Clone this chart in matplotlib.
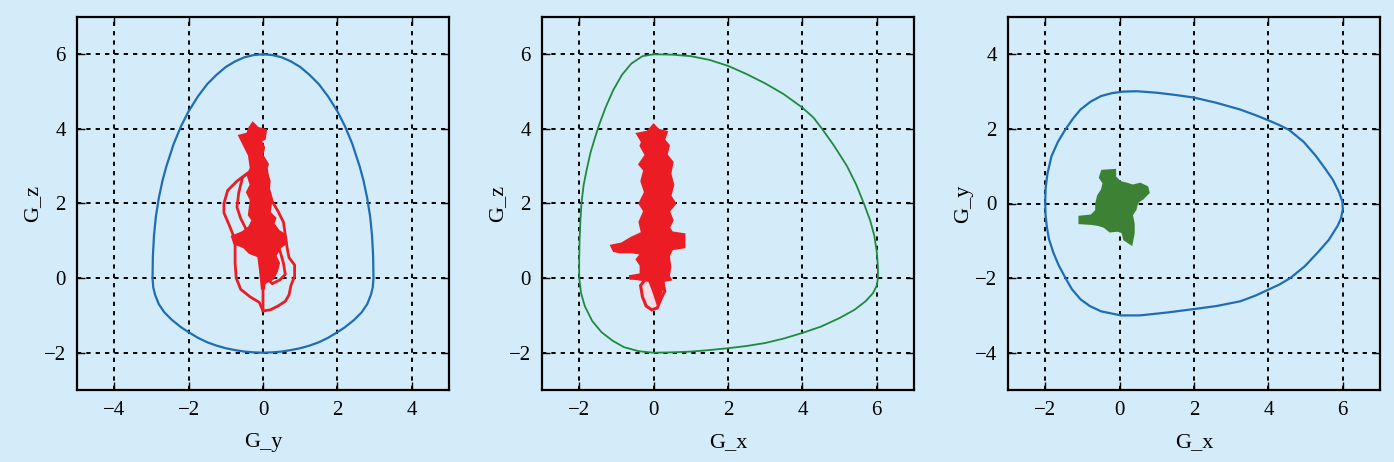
import matplotlib
matplotlib.use("Agg")
import matplotlib.pyplot as plt

plt.rcParams['font.family'] = ['Liberation Serif', 'DejaVu Serif']
plt.rcParams['axes.unicode_minus'] = True

BG = '#d4ecf9'
BLUE = '#1f6db3'
DGREEN = '#1f8a3e'
RED = '#ec1c24'
GREEN = '#3d8234'

# ---------------- Panel 1: G_y vs G_z ----------------
env1_y = [0, 0.25, 0.5, 0.75, 1.0, 1.25, 1.5, 1.75, 2.0, 2.2, 2.4, 2.6, 2.7, 2.8, 2.88, 2.93, 2.96, 2.97,
          2.95, 2.9, 2.8, 2.65, 2.45, 2.2, 2.0, 1.75, 1.5, 1.25, 1.0, 0.75, 0.5, 0.25, 0,
          -0.25, -0.5, -0.75, -1.0, -1.25, -1.5, -1.75, -2.0, -2.2, -2.45, -2.65, -2.8, -2.9, -2.95,
          -2.97, -2.96, -2.93, -2.88, -2.8, -2.7, -2.6, -2.4, -2.2, -2.0, -1.75, -1.5, -1.25, -1.0,
          -0.75, -0.5, -0.25, 0]
env1_z = [6.0, 5.98, 5.92, 5.81, 5.66, 5.45, 5.2, 4.87, 4.47, 4.08, 3.6, 2.99, 2.62, 2.15, 1.65, 1.15, 0.6, 0.0,
          -0.25, -0.45, -0.7, -0.92, -1.12, -1.32, -1.45, -1.6, -1.72, -1.81, -1.88, -1.93, -1.97, -1.99, -2.0,
          -1.99, -1.97, -1.93, -1.88, -1.81, -1.72, -1.6, -1.45, -1.32, -1.12, -0.92, -0.7, -0.45, -0.25,
          0.0, 0.6, 1.15, 1.65, 2.15, 2.62, 2.99, 3.6, 4.08, 4.47, 4.87, 5.2, 5.45, 5.66,
          5.81, 5.92, 5.98, 6.0]

core1_y = [-0.27, -0.15, 0.05, 0.02, -0.1, 0.0, -0.05, 0.1, 0.05, 0.15, 0.12, 0.2, 0.15, 0.3, 0.25, 0.4,
           0.55, 0.6, 0.45, 0.3, 0.4, 0.35, 0.25, 0.05, 0.05, 0.0, -0.05, -0.1, -0.35, -0.5, -0.75, -0.8,
           -0.55, -0.35, -0.25, -0.35, -0.3, -0.4, -0.3, -0.38, -0.3, -0.35, -0.6, -0.4, -0.35, -0.27]
core1_z = [4.12, 4.0, 3.95, 3.75, 3.7, 3.5, 3.3, 3.05, 2.9, 2.6, 2.3, 2.1, 1.75, 1.6, 1.45, 1.25,
           1.15, 0.95, 0.85, 0.6, 0.4, 0.2, 0.0, -0.1, 0.3, -0.3, 0.2, 0.6, 0.7, 0.85, 0.95, 1.1,
           1.2, 1.35, 1.55, 1.7, 2.1, 2.3, 2.5, 2.75, 2.95, 3.3, 3.8, 3.85, 4.0, 4.12]

loopA1_y = [-0.35, -0.5, -0.7, -0.95, -1.05, -1.05, -0.9, -0.8, -0.75, -0.75, -0.72, -0.6, -0.35, -0.1,
            0.0, 0.2, 0.4, 0.6, 0.7, 0.75, 0.85, 0.85, 0.7, 0.65, 0.6, 0.55, 0.4, 0.25, 0.15, 0.1, -0.1]
loopA1_z = [2.85, 2.75, 2.6, 2.35, 2.0, 1.75, 1.4, 1.15, 0.9, 0.4, 0.0, -0.3, -0.5, -0.65,
            -0.88, -0.85, -0.75, -0.62, -0.45, -0.2, 0.05, 0.35, 0.55, 0.8, 1.15, 1.5, 1.8, 2.05, 2.4, 2.9, 3.3]
loopB1_y = [-0.3, -0.55, -0.65, -0.7, -0.6, -0.45, -0.3]
loopB1_z = [2.9, 2.7, 2.3, 1.9, 1.6, 1.3, 1.1]
loopC1_y = [0.1, 0.45, 0.55, 0.6, 0.45, 0.25, 0.1, 0.0, 0.0]
loopC1_z = [0.9, 0.75, 0.4, 0.1, -0.05, -0.15, 0.0, 0.0, -0.88]

# ---------------- Panel 2: G_x vs G_z ----------------
env2_x = [0, 0.5, 1.0, 1.5, 2.0, 2.5, 3.0, 3.5, 4.0, 4.3, 4.53, 4.85, 5.2, 5.45, 5.66, 5.82, 5.93, 6.0, 6.03,
          6.03, 6.0, 5.9, 5.7, 5.4, 5.0, 4.5, 4.0, 3.5, 3.0, 2.5, 2.0, 1.5, 1.0, 0.5, 0,
          -0.4, -0.8, -1.1, -1.4, -1.65, -1.85, -1.95, -2.0, -2.0, -1.99, -1.97, -1.94, -1.88, -1.8,
          -1.7, -1.58, -1.45, -1.28, -1.08, -0.85, -0.6, -0.3, 0]
env2_z = [6.0, 5.99, 5.95, 5.85, 5.69, 5.47, 5.22, 4.93, 4.57, 4.3, 4.0, 3.55, 3.0, 2.5, 1.98, 1.55, 1.15, 0.7, 0.3,
          0.0, -0.2, -0.4, -0.62, -0.85, -1.07, -1.3, -1.47, -1.62, -1.74, -1.82, -1.88, -1.93, -1.97, -1.99, -2.0,
          -1.96, -1.85, -1.68, -1.45, -1.15, -0.75, -0.4, 0.0, 0.5, 1.0, 1.5, 2.0, 2.5, 2.9,
          3.35, 3.75, 4.15, 4.6, 5.05, 5.45, 5.75, 5.95, 6.0]

core2_x = [0.0, 0.12, 0.32, 0.25, 0.38, 0.32, 0.48, 0.42, 0.5, 0.42, 0.55, 0.38, 0.48, 0.38, 0.48, 0.8, 0.8,
           0.48, 0.38, 0.42, 0.38, 0.42, 0.25, 0.2, 0.1, 0.0, -0.1, -0.45, -0.65, -0.32, -0.32, -0.42, -0.28,
           -0.6, -0.9, -1.05, -1.1, -0.85, -0.6, -0.28, -0.35, -0.22, -0.35, -0.2, -0.3, -0.22, -0.35, -0.18,
           -0.32, -0.28, -0.4, -0.15, 0.0]
core2_z = [4.07, 3.95, 3.9, 3.7, 3.55, 3.3, 3.1, 2.8, 2.5, 2.2, 2.0, 1.8, 1.55, 1.35, 1.2, 1.15, 0.85,
           0.8, 0.6, 0.3, 0.05, -0.02, -0.05, -0.3, -0.6, -0.3, -0.05, 0.0, 0.02, 0.08, 0.35, 0.5, 0.68,
           0.72, 0.72, 0.75, 0.85, 0.9, 1.05, 1.2, 1.5, 1.8, 2.0, 2.3, 2.6, 2.9, 3.05, 3.3,
           3.55, 3.65, 3.85, 3.9, 4.07]
bulb2_x = [-0.2, -0.35, -0.3, -0.2, -0.05, 0.1, 0.2, 0.3, 0.25, 0.3]
bulb2_z = [0.0, -0.2, -0.5, -0.75, -0.85, -0.8, -0.55, -0.35, -0.1, 0.1]

# ---------------- Panel 3: G_x vs G_y ----------------
env3_x = [-2.0, -1.99, -1.94, -1.83, -1.66, -1.46, -1.25, -1.05, -0.78, -0.5, -0.2, 0.1, 0.46, 1.0, 1.5, 2.0,
          2.6, 3.24, 3.65, 4.0, 4.3, 4.56, 4.95, 5.28, 5.55, 5.73, 5.9, 5.99, 6.0, 5.95, 5.86, 5.62, 5.32,
          4.98, 4.6, 4.3, 4.02, 3.65, 3.25, 2.6, 2.0, 1.3, 0.55, 0.03, -0.5, -0.8, -1.05, -1.28, -1.46,
          -1.64, -1.78, -1.9, -1.96, -1.99, -2.0]
env3_y = [0.0, 0.4, 0.8, 1.27, 1.65, 1.98, 2.28, 2.52, 2.73, 2.88, 2.96, 3.0, 3.01, 2.97, 2.91, 2.84,
          2.7, 2.52, 2.37, 2.23, 2.1, 1.97, 1.65, 1.27, 0.9, 0.64, 0.3, 0.05, -0.16, -0.4, -0.6, -0.98, -1.32,
          -1.68, -1.99, -2.17, -2.3, -2.47, -2.62, -2.75, -2.83, -2.92, -3.0, -3.0, -2.89, -2.75, -2.57, -2.3, -1.99,
          -1.65, -1.32, -0.95, -0.6, -0.3, 0.0]

core3_x = [-0.45, -0.15, -0.15, 0.0, 0.2, 0.35, 0.55, 0.72, 0.75, 0.6, 0.45, 0.4, 0.3, 0.35, 0.35, 0.3,
           0.15, 0.1, -0.05, -0.25, -0.4, -0.55, -0.75, -1.05, -1.05, -0.75, -0.6, -0.6, -0.55, -0.45,
           -0.4, -0.5, -0.45]
core3_y = [0.85, 0.87, 0.7, 0.55, 0.5, 0.45, 0.5, 0.42, 0.3, 0.15, 0.05, -0.15, -0.3, -0.55, -0.8, -1.05,
           -0.95, -0.75, -0.7, -0.72, -0.6, -0.55, -0.52, -0.5, -0.38, -0.35, -0.2, 0.0, 0.2, 0.35,
           0.55, 0.7, 0.85]

fig = plt.figure(figsize=(13.94, 4.62), dpi=100, facecolor=BG)

W = 372 / 1394
H = 373 / 462
B = 72 / 462
lefts = [77 / 1394, 542 / 1394, 1008 / 1394]

def style(ax, xlim, ylim, xt, yt, xl, yl):
    ax.set_facecolor(BG)
    ax.set_xlim(*xlim)
    ax.set_ylim(*ylim)
    ax.set_xticks(xt)
    ax.set_yticks(yt)
    ax.grid(True, color='black', linestyle=(0, (2.2, 2.6)), linewidth=1.4)
    ax.set_axisbelow(True)
    ax.tick_params(direction='in', top=True, right=True, length=6, width=1.0,
                   labelsize=15, colors='black', pad=8)
    for s in ax.spines.values():
        s.set_linewidth(1.6)
        s.set_color('black')
    ax.set_xlabel(xl, fontsize=16, labelpad=9)
    ax.set_ylabel(yl, fontsize=16, labelpad=1)

ax1 = fig.add_axes([lefts[0], B, W, H])
style(ax1, (-5, 5), (-3, 7), [-4, -2, 0, 2, 4], [-2, 0, 2, 4, 6], 'G_y', 'G_z')
ax1.plot(env1_y, env1_z, color=BLUE, lw=1.6)
ax1.plot(loopA1_y, loopA1_z, color=RED, lw=2.0)
ax1.plot(loopB1_y, loopB1_z, color=RED, lw=2.0)
ax1.plot(loopC1_y, loopC1_z, color=RED, lw=2.0)
ax1.fill(core1_y, core1_z, color=RED, lw=3.0)

ax2 = fig.add_axes([lefts[1], B, W, H])
style(ax2, (-3, 7), (-3, 7), [-2, 0, 2, 4, 6], [-2, 0, 2, 4, 6], 'G_x', 'G_z')
ax2.plot(env2_x, env2_z, color=DGREEN, lw=1.3)
ax2.fill(bulb2_x, bulb2_z, facecolor='#f3dde8', edgecolor=RED, lw=2.2)
ax2.fill(core2_x, core2_z, color=RED, lw=3.0)

ax3 = fig.add_axes([lefts[2], B, W, H])
style(ax3, (-3, 7), (-5, 5), [-2, 0, 2, 4, 6], [-4, -2, 0, 2, 4], 'G_x', 'G_y')
ax3.plot(env3_x, env3_y, color=BLUE, lw=1.6)
ax3.fill(core3_x, core3_y, color=GREEN, lw=3.0)

fig.savefig('out.png', dpi=100, facecolor=BG)
